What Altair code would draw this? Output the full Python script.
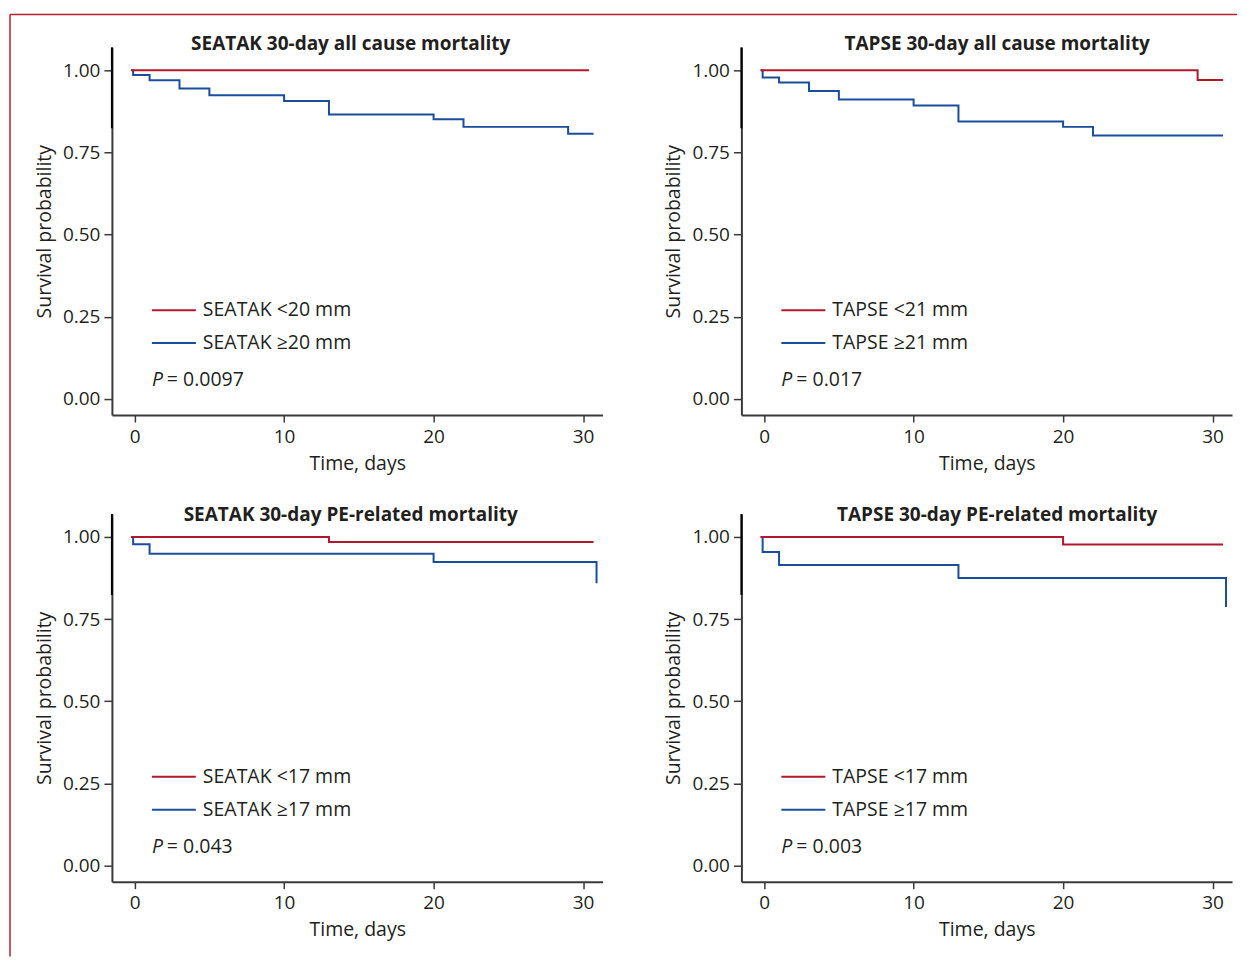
import altair as alt
import pandas as pd

RED = "#B2182B"
BLUE = "#1A4D9B"
AXIS_GREY = "#3a3a3a"
TEXT = "#231f20"
FONT = "Open Sans"

titles = [
    "SEATAK 30-day all cause mortality",
    "TAPSE 30-day all cause mortality",
    "SEATAK 30-day PE-related mortality",
    "TAPSE 30-day PE-related mortality",
]
group_labels = [
    ["SEATAK <20 mm", "SEATAK \u226520 mm"],
    ["TAPSE <21 mm", "TAPSE \u226521 mm"],
    ["SEATAK <17 mm", "SEATAK \u226517 mm"],
    ["TAPSE <17 mm", "TAPSE \u226517 mm"],
]
p_values = ["0.0097", "0.017", "0.043", "0.003"]

# Kaplan-Meier step curves (time in days, survival)
a_low_t = [-0.25, 30.4]
a_low_s = [1.0, 1.0]
a_high_t = [-0.2, -0.1, 1, 3, 5, 10, 13, 20, 22, 29, 30.7]
a_high_s = [1.0, 0.986, 0.970, 0.945, 0.924, 0.907, 0.866, 0.851, 0.828, 0.807, 0.807]

b_low_t = [-0.25, 29, 30.7]
b_low_s = [1.0, 0.971, 0.971]
b_high_t = [-0.2, -0.1, 1, 3, 5, 10, 13, 20, 22, 30.7]
b_high_s = [1.0, 0.978, 0.963, 0.937, 0.911, 0.893, 0.844, 0.828, 0.802, 0.802]

c_low_t = [-0.25, 13, 30.7]
c_low_s = [1.0, 0.985, 0.985]
c_high_t = [-0.2, -0.1, 1, 20, 30.9]
c_high_s = [1.0, 0.978, 0.949, 0.924, 0.859]

d_low_t = [-0.25, 20, 30.7]
d_low_s = [1.0, 0.977, 0.977]
d_high_t = [-0.2, -0.1, 1, 13, 30.9]
d_high_s = [1.0, 0.954, 0.915, 0.875, 0.787]

x_ticks = [0, 10, 20, 30]
y_ticks = [0.0, 0.25, 0.50, 0.75, 1.0]

curves = [
    (a_low_t, a_low_s, a_high_t, a_high_s),
    (b_low_t, b_low_s, b_high_t, b_high_s),
    (c_low_t, c_low_s, c_high_t, c_high_s),
    (d_low_t, d_low_s, d_high_t, d_high_s),
]
title_x = [239, 256, 239, 256]
title_y = [-3, -3, 1, 1]

W, H = 491, 368
one = pd.DataFrame({"k": [0]})


def make_panel(i):
    lt, ls, ht, hs = curves[i]
    labels = group_labels[i]
    df = pd.concat([
        pd.DataFrame({"t": ht, "s": hs, "g": labels[1]}),
        pd.DataFrame({"t": lt, "s": ls, "g": labels[0]}),
    ])
    lines = alt.Chart(df).mark_line(interpolate="step-after", strokeWidth=2).encode(
        x=alt.X("t:Q",
                scale=alt.Scale(domain=[-1.52, 31.3], nice=False, zero=False),
                axis=alt.Axis(values=x_ticks, title="Time, days", tickSize=7,
                              labelPadding=5, titlePadding=8, labelFlush=False)),
        y=alt.Y("s:Q",
                scale=alt.Scale(domain=[-0.049, 1.07], nice=False, zero=False),
                axis=alt.Axis(values=y_ticks, format=".2f", title="Survival probability",
                              tickSize=8, labelPadding=4, titlePadding=8, labelFlush=False)),
        color=alt.Color("g:N", scale=alt.Scale(domain=labels, range=[RED, BLUE]), legend=None),
        detail="g:N",
    )
    base = alt.Chart(one)
    layers = [lines]
    # black top segment of y axis
    layers.append(base.mark_rule(color="black", strokeWidth=2).encode(
        x=alt.value(0), y=alt.value(0), y2=alt.value(81)))
    # panel title
    layers.append(base.mark_text(font=FONT, fontSize=19, fontWeight="bold", color=TEXT,
                                 align="center", baseline="middle").encode(
        x=alt.value(title_x[i]), y=alt.value(title_y[i]), text=alt.value(titles[i])))
    # legend
    for j, (col, yy) in enumerate([(RED, 263), (BLUE, 296)]):
        layers.append(base.mark_rule(color=col, strokeWidth=2).encode(
            x=alt.value(40), x2=alt.value(84), y=alt.value(yy)))
        layers.append(base.mark_text(font=FONT, fontSize=19.5, color=TEXT, align="left",
                                     baseline="middle").encode(
            x=alt.value(91), y=alt.value(yy), text=alt.value(labels[j])))
    # P value
    layers.append(base.mark_text(font=FONT, fontSize=19.5, fontStyle="italic", color=TEXT,
                                 align="left", baseline="middle").encode(
        x=alt.value(40), y=alt.value(333), text=alt.value("P")))
    layers.append(base.mark_text(font=FONT, fontSize=19.5, color=TEXT, align="left",
                                 baseline="middle").encode(
        x=alt.value(55), y=alt.value(333), text=alt.value("= " + p_values[i])))
    if i == 0:
        layers.append(base.mark_rule(color="#B8202E", strokeWidth=1.5).encode(
            x=alt.value(-102), x2=alt.value(1126), y=alt.value(-33)))
        layers.append(base.mark_rule(color="#B8202E", strokeWidth=1.5).encode(
            x=alt.value(-102), y=alt.value(-33), y2=alt.value(910)))
    return alt.layer(*layers).properties(width=W, height=H)


panels = [make_panel(i) for i in range(4)]

chart = alt.concat(
    *panels, columns=2, bounds="flush",
    spacing=alt.RowColnumber(row=99, column=139),
).resolve_scale(color="independent").properties(
    padding={"left": 1, "top": 5, "right": 0, "bottom": 0}
).configure_view(stroke=None).configure_axis(
    grid=False,
    domainColor=AXIS_GREY, domainWidth=2,
    tickColor=AXIS_GREY, tickWidth=1.5,
    labelFont=FONT, labelFontSize=19, labelColor=TEXT,
    titleFont=FONT, titleFontSize=19.5, titleFontWeight="normal", titleColor=TEXT,
)

chart.save("out.html", embed_options={"renderer": "svg", "actions": False})
